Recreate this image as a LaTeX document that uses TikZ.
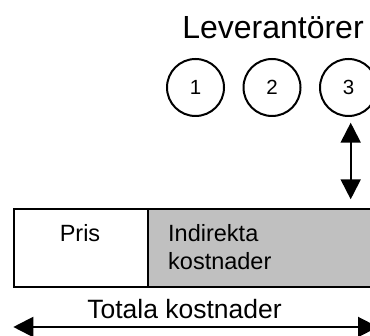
\documentclass[tikz,border=0pt]{standalone}
\usepackage{fontspec}
\setmainfont{Liberation Sans}
\usetikzlibrary{arrows.meta}
\definecolor{shade}{HTML}{C0C0C0}
\begin{document}
\begin{tikzpicture}[x=1pt,y=-1pt,
  supplier/.style={draw,line width=2pt,circle,minimum size=57pt,inner sep=0pt,font=\fontsize{20.5}{20.5}\selectfont},
  cell/.style={draw,line width=2.4pt,anchor=north west,inner sep=0pt},
  label/.style={anchor=base,inner sep=0pt,font=\fontsize{23.5}{23.5}\selectfont},
  dblarrow/.style={line width=2pt,{Triangle[length=20pt,width=20pt]}-{Triangle[length=20pt,width=20pt]}}]
  \useasboundingbox (0,0) rectangle (370,336);
  \clip (0,0) rectangle (370,336);
  % heading
  \node[label,font=\fontsize{32}{32}\selectfont] (head) at (273,39) {Leverantörer};
  % suppliers
  \node[supplier] (s1) at (195.5,87.5) {1};
  \node[supplier] (s2) at (272,87.5) {2};
  \node[supplier] (s3) at (348.5,87.5) {3};
  % cost bar
  \node[cell,minimum width=134pt,minimum height=78pt] (pris) at (13,208) {};
  \node[cell,fill=shade,minimum width=240pt,minimum height=78pt] (indir) at (147,208) {};
  \node[label] (pristext) at (80,242) {Pris};
  \node[label,anchor=base west] (indtext1) at (168,242) {Indirekta};
  \node[label,anchor=base west] (indtext2) at (168,270) {kostnader};
  % link between supplier 3 and the indirect costs
  \coordinate (u1) at (350.7,122.7);
  \coordinate (u2) at (350.7,199.3);
  \draw[dblarrow] (u1) -- (u2);
  % total costs
  \node[label,font=\fontsize{26.5}{26.5}\selectfont] (total) at (184.5,319) {Totala kostnader};
  \coordinate (t1) at (13.3,327);
  \coordinate (t2) at (378,327);
  \draw[dblarrow] (t1) -- (t2);
\end{tikzpicture}
\end{document}
